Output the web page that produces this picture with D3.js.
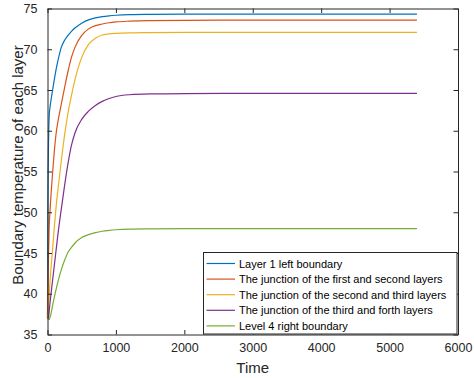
<!DOCTYPE html>
<html>
<head>
<meta charset="utf-8">
<script src="https://cdn.jsdelivr.net/npm/d3@7/dist/d3.min.js"></script>
<style>
  html, body { margin: 0; padding: 0; background: #fff; }
  svg { display: block; font-family: "Liberation Sans", Arial, sans-serif; }
</style>
</head>
<body>
<svg id="chart" width="474" height="378"></svg>
<script>
// ---- data ----
const time = [0,5,10,15,25,37,50,75,100,125,150,200,250,300,350,400,500,600,700,800,900,1000,1200,1500,2000,3000,4000,5400];
const layer1Left = [37,50,55.5,58.5,61.9,62.9,63.7,65.0,66.3,67.5,68.5,70.2,71.1,71.7,72.2,72.6,73.2,73.6,73.85,74.0,74.1,74.17,74.25,74.28,74.3,74.3,74.3,74.3];
const junction12 = [37,40,42.5,44.8,48.3,50.2,52.0,54.9,57.5,59.6,61.0,63.2,65.3,67.3,69.0,70.2,71.7,72.5,72.9,73.1,73.25,73.35,73.45,73.52,73.55,73.57,73.58,73.58];
const junction23 = [37,37.1,37.4,38.1,39.7,41.5,43.0,45.5,48.2,50.6,52.6,56.2,59.5,62.2,64.3,66.2,69.0,70.6,71.35,71.75,71.88,71.95,72.02,72.05,72.07,72.08,72.08,72.08];
const junction34 = [37,37.0,37.05,37.1,37.9,38.9,39.9,41.7,43.5,45.3,47.1,50.3,53.3,56.0,58.2,59.7,61.4,62.4,63.1,63.6,63.95,64.2,64.42,64.52,64.56,64.58,64.58,64.58];
const level4Right = [37.0,36.95,36.9,36.87,36.85,37.1,37.5,38.6,39.6,40.5,41.4,42.9,44.1,45.1,45.7,46.2,46.9,47.25,47.5,47.67,47.77,47.85,47.93,47.96,47.98,48.0,48.0,48.0];

const seriesNames = [
  "Layer 1 left boundary",
  "The junction of the first and second layers",
  "The junction of the second and third layers",
  "The junction of the third and forth layers",
  "Level 4 right boundary"
];
const seriesValues = [layer1Left, junction12, junction23, junction34, level4Right];
const colors = ["#0072BD", "#D95319", "#EDB120", "#7E2F8E", "#77AC30"];

const xTicks = [0,1000,2000,3000,4000,5000,6000];
const yTicks = [35,40,45,50,55,60,65,70,75];

// ---- layout ----
const svg = d3.select("#chart");
const L = 47.5, R = 458, T = 8.5, B = 334.5;
const x = d3.scaleLinear().domain([0, 6000]).range([L, R]);
const y = d3.scaleLinear().domain([35, 75]).range([B, T]);
const axisColor = "#262626";

// lines
const line = d3.line()
  .x((d, i) => x(time[i]))
  .y(d => y(d))
  .curve(d3.curveMonotoneX);

const plot = svg.append("g");
seriesValues.forEach((vals, k) => {
  plot.append("path")
    .attr("d", line(vals))
    .attr("fill", "none")
    .attr("stroke", colors[k])
    .attr("stroke-width", 1.2);
});

// axes
const tickLen = 4.5;
const xAxisB = d3.axisBottom(x).tickValues(xTicks).tickSizeInner(-tickLen).tickSizeOuter(0).tickPadding(9).tickFormat(d3.format("d"));
const xAxisT = d3.axisTop(x).tickValues(xTicks).tickSizeInner(-tickLen).tickSizeOuter(0).tickFormat("");
const yAxisL = d3.axisLeft(y).tickValues(yTicks).tickSizeInner(-tickLen).tickSizeOuter(0).tickPadding(10).tickFormat(d3.format("d"));
const yAxisR = d3.axisRight(y).tickValues(yTicks).tickSizeInner(-tickLen).tickSizeOuter(0).tickFormat("");

function style(g) {
  g.select(".domain").attr("stroke", axisColor).attr("stroke-width", 1);
  g.selectAll(".tick line").attr("stroke", axisColor).attr("stroke-width", 1);
  g.selectAll(".tick text").attr("fill", axisColor).style("font-size", "12.5px")
    .style("font-family", '"Liberation Sans", Arial, sans-serif');
}
svg.append("g").attr("transform", `translate(0,${B})`).call(xAxisB).call(style);
svg.append("g").attr("transform", `translate(0,${T})`).call(xAxisT).call(style);
svg.append("g").attr("transform", `translate(${L},0)`).call(yAxisL).call(style);
svg.append("g").attr("transform", `translate(${R},0)`).call(yAxisR).call(style);

// axis labels
svg.append("text")
  .attr("x", (L + R) / 2).attr("y", 373)
  .attr("text-anchor", "middle")
  .attr("fill", axisColor)
  .style("font-size", "15px")
  .text("Time");
svg.append("text")
  .attr("transform", `translate(22.5,165) rotate(-90)`)
  .attr("text-anchor", "middle")
  .attr("fill", axisColor)
  .style("font-size", "15px")
  .text("Boundary temperature of each layer");

// legend
const lg = svg.append("g");
const lgX0 = 203.5, lgY0 = 252.5, lgX1 = 457, lgY1 = 334;
lg.append("rect")
  .attr("x", lgX0).attr("y", lgY0)
  .attr("width", lgX1 - lgX0).attr("height", lgY1 - lgY0)
  .attr("fill", "#fff").attr("stroke", axisColor).attr("stroke-width", 1);
seriesNames.forEach((name, k) => {
  const yy = 263.5 + k * 15.6;
  lg.append("line")
    .attr("x1", 206.5).attr("x2", 235)
    .attr("y1", yy).attr("y2", yy)
    .attr("stroke", colors[k]).attr("stroke-width", 1.2);
  lg.append("text")
    .attr("x", 239).attr("y", yy + 4)
    .attr("fill", "#000")
    .style("font-size", "11px")
    .text(name);
});
</script>
</body>
</html>
